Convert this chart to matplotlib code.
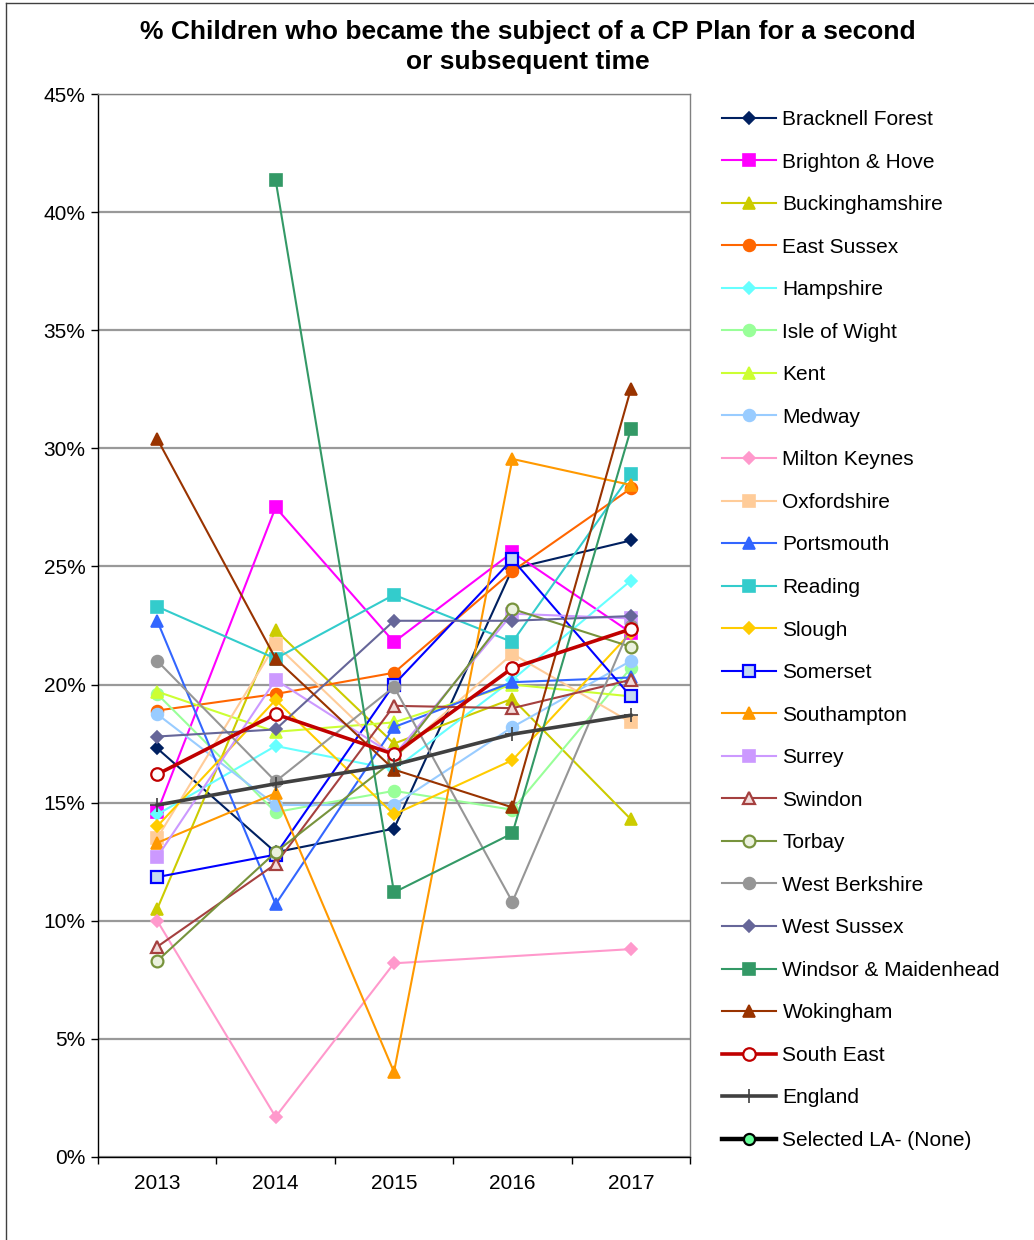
import numpy as np
import matplotlib
matplotlib.use("Agg")
import matplotlib.pyplot as plt
from matplotlib.lines import Line2D

plt.rcParams['font.family'] = ['Liberation Sans', 'DejaVu Sans']

years = ['2013', '2014', '2015', '2016', '2017']
nan = np.nan

bracknell_forest = [17.3, 12.9, 13.9, 24.9, 26.1]
brighton_hove = [14.6, 27.5, 21.8, 25.6, 22.2]
buckinghamshire = [10.5, 22.3, 17.5, 19.4, 14.3]
east_sussex = [18.9, 19.6, 20.5, 24.8, 28.3]
hampshire = [14.5, 17.4, 16.4, 20.2, 24.4]
isle_of_wight = [19.6, 14.6, 15.5, 14.7, 20.7]
kent = [19.7, 18.0, 18.4, 20.0, 19.5]
medway = [18.75, 14.9, 14.9, 18.2, 21.0]
milton_keynes = [10.0, 1.7, 8.2, nan, 8.8]
oxfordshire = [13.5, 21.7, 16.9, 21.3, 18.4]
portsmouth = [22.7, 10.7, 18.2, 20.1, 20.3]
reading = [23.3, 21.1, 23.8, 21.8, 28.9]
slough = [14.0, 19.35, 14.5, 16.8, 22.2]
somerset = [11.85, 12.8, 20.0, 25.3, 19.5]
southampton = [13.3, 15.4, 3.6, 29.55, 28.45]
surrey = [12.7, 20.2, 17.0, 23.0, 22.8]
swindon = [8.9, 12.4, 19.1, 19.0, 20.2]
torbay = [8.3, 12.9, 16.8, 23.2, 21.6]
west_berkshire = [21.0, 15.9, 19.9, 10.8, 22.5]
west_sussex = [17.8, 18.1, 22.7, 22.7, 22.9]
windsor_maidenhead = [nan, 41.36, 11.2, 13.7, 30.8]
wokingham = [30.4, 21.1, 16.4, 14.8, 32.5]
south_east = [16.2, 18.75, 17.05, 20.7, 22.35]
england = [14.9, 15.8, 16.6, 17.9, 18.7]
selected_la = [nan, nan, nan, nan, nan]

series_names = ['Bracknell Forest', 'Brighton & Hove', 'Buckinghamshire', 'East Sussex',
                'Hampshire', 'Isle of Wight', 'Kent', 'Medway', 'Milton Keynes',
                'Oxfordshire', 'Portsmouth', 'Reading', 'Slough', 'Somerset',
                'Southampton', 'Surrey', 'Swindon', 'Torbay', 'West Berkshire',
                'West Sussex', 'Windsor & Maidenhead', 'Wokingham', 'South East',
                'England', 'Selected LA- (None)']
series_values = [bracknell_forest, brighton_hove, buckinghamshire, east_sussex, hampshire,
                 isle_of_wight, kent, medway, milton_keynes, oxfordshire, portsmouth,
                 reading, slough, somerset, southampton, surrey, swindon, torbay,
                 west_berkshire, west_sussex, windsor_maidenhead, wokingham, south_east,
                 england, selected_la]

# style: (line colour, marker, marker face, marker edge, linewidth, markersize)
styles = [
    ('#002060', 'D', '#002060', '#002060', 1.5, 6.5),
    ('#FF00FF', 's', '#FF00FF', '#FF00FF', 1.5, 8),
    ('#CCCC00', '^', '#CCCC00', '#CCCC00', 1.5, 8.5),
    ('#FF6600', 'o', '#FF6600', '#FF6600', 1.5, 8.5),
    ('#66FFFF', 'D', '#66FFFF', '#66FFFF', 1.5, 6.5),
    ('#99FF99', 'o', '#99FF99', '#99FF99', 1.5, 8.5),
    ('#CCFF33', '^', '#CCFF33', '#CCFF33', 1.5, 8.5),
    ('#99CCFF', 'o', '#99CCFF', '#99CCFF', 1.5, 8.5),
    ('#FF99CC', 'D', '#FF99CC', '#FF99CC', 1.5, 6.5),
    ('#FFCC99', 's', '#FFCC99', '#FFCC99', 1.5, 8),
    ('#3366FF', '^', '#3366FF', '#3366FF', 1.5, 8.5),
    ('#33CCCC', 's', '#33CCCC', '#33CCCC', 1.5, 8),
    ('#FFCC00', 'D', '#FFCC00', '#FFCC00', 1.5, 6.5),
    ('#0000FF', 's', '#C5D9F1', '#0000FF', 1.5, 8),
    ('#FF9900', '^', '#FF9900', '#FF9900', 1.5, 8.5),
    ('#CC99FF', 's', '#CC99FF', '#CC99FF', 1.5, 8),
    ('#A5403F', '^', '#F2DCDB', '#A5403F', 1.5, 8.5),
    ('#77933C', 'o', '#EBF1DE', '#77933C', 1.5, 8.5),
    ('#969696', 'o', '#969696', '#969696', 1.5, 8.5),
    ('#666699', 'D', '#666699', '#666699', 1.5, 6.5),
    ('#339966', 's', '#339966', '#339966', 1.5, 8),
    ('#993300', '^', '#993300', '#993300', 1.5, 8.5),
    ('#C00000', 'o', '#FFFFFF', '#C00000', 2.6, 9),
    ('#404040', '+', '#404040', '#404040', 2.6, 10),
    ('#000000', 'o', '#66FF99', '#000000', 3.2, 8),
]

fig = plt.figure(figsize=(10.34, 12.4), dpi=100)
ax = fig.add_axes([98/1034, 1-1157/1240, (690-98)/1034, (1157-94)/1240])

x = np.arange(len(years))
for name, vals, st in zip(series_names, series_values, styles):
    v = np.array(vals, dtype=float)
    m = ~np.isnan(v)
    col, mk, fc, ec, lw, ms = st
    ax.plot(x[m], v[m], color=col, marker=mk, markerfacecolor=fc, markeredgecolor=ec,
            linewidth=lw, markersize=ms, markeredgewidth=1.6 if fc != col else 1.2,
            label=name, clip_on=False)

ax.set_xlim(-0.5, 4.5)
ax.set_ylim(0, 45)
ax.set_yticks(np.arange(0, 46, 5))
ax.set_yticklabels([f'{v}%' for v in range(0, 46, 5)], fontsize=15)
ax.set_xticks(x)
ax.set_xticklabels(years, fontsize=15)
ax.set_xticks(np.arange(-0.5, 4.6, 1), minor=True)
ax.tick_params(axis='x', which='major', length=0, pad=12)
ax.tick_params(axis='x', which='minor', length=5, width=1, direction='out')
ax.tick_params(axis='y', length=5, width=1, direction='out', pad=4)
ax.yaxis.grid(True, color='#999999', linewidth=1.6)
ax.set_axisbelow(True)
for s in ['left', 'bottom']:
    ax.spines[s].set_color('#000000')
    ax.spines[s].set_linewidth(1.0)
for s in ['top', 'right']:
    ax.spines[s].set_color('#808080')
    ax.spines[s].set_linewidth(1.0)

fig.text(528/1034, 1-47/1240,
         '% Children who became the subject of a CP Plan for a second\nor subsequent time',
         ha='center', va='center', fontsize=19, fontweight='bold', linespacing=1.28)

leg = ax.legend(loc='upper left', bbox_to_anchor=(722/1034, 1-110/1240),
                bbox_transform=fig.transFigure, frameon=False, fontsize=15,
                handlelength=2.6, handletextpad=0.3, labelspacing=1.13,
                borderaxespad=0, borderpad=0)

fig.add_artist(Line2D([6/1034, 6/1034], [0, 1-3/1240], color='#404040', linewidth=1.0))
fig.add_artist(Line2D([6/1034, 1], [1-3/1240, 1-3/1240], color='#404040', linewidth=1.0))

fig.savefig('out.png', dpi=100)
